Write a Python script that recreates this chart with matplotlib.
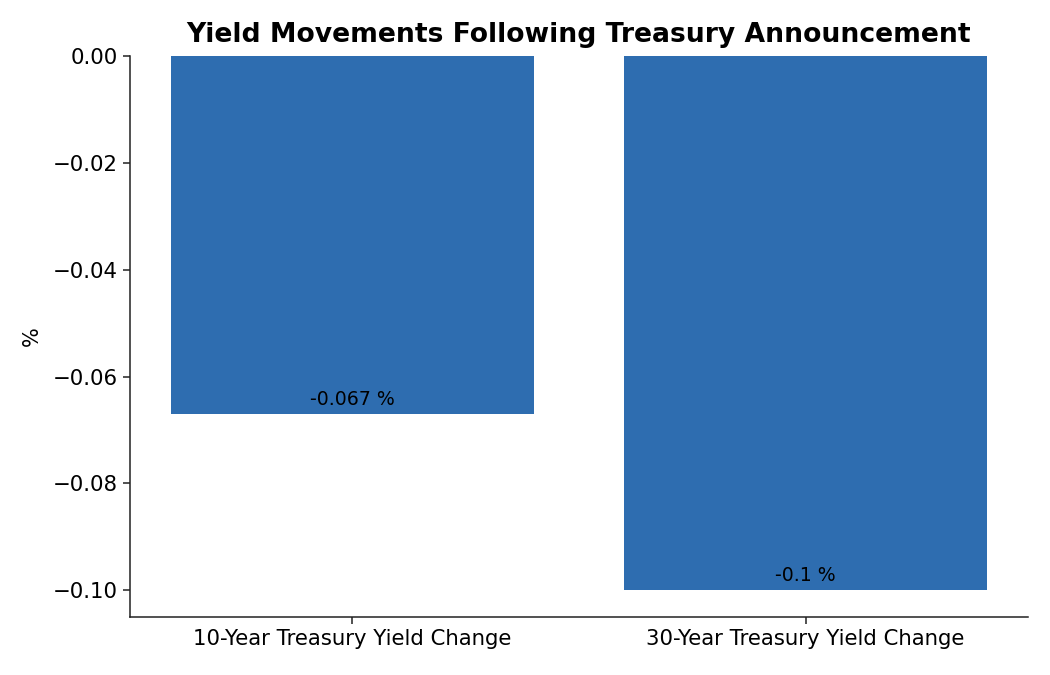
import matplotlib
matplotlib.use("Agg")
import matplotlib.pyplot as plt

categories = ["10-Year Treasury Yield Change", "30-Year Treasury Yield Change"]
values = [-0.067, -0.1]
labels = ["-0.067 %", "-0.1 %"]

fig = plt.figure(figsize=(10.5, 6.75), dpi=100)
ax = fig.add_axes([0.1238, 0.086, 0.855, 0.831])
bars = ax.bar(categories, values, width=0.8, color="#2e6db0")
for b, v, l in zip(bars, values, labels):
    ax.annotate(l, (b.get_x() + b.get_width() / 2, v), xytext=(0, 3.5),
                textcoords="offset points", ha="center", va="bottom", fontsize=13.6)
ax.set_ylabel("%", fontsize=15, labelpad=8)
ax.set_title("Yield Movements Following Treasury Announcement", fontsize=19.2, fontweight="bold", pad=10)
ax.tick_params(labelsize=15.3, length=5, width=1.1, color="#222222")
for s in ["left", "bottom"]:
    ax.spines[s].set_linewidth(1.1)
    ax.spines[s].set_color("#222222")
ax.spines["top"].set_visible(False)
ax.spines["right"].set_visible(False)
ax.set_ylim(-0.105, 0)
fig.savefig("out.png", dpi=100)
